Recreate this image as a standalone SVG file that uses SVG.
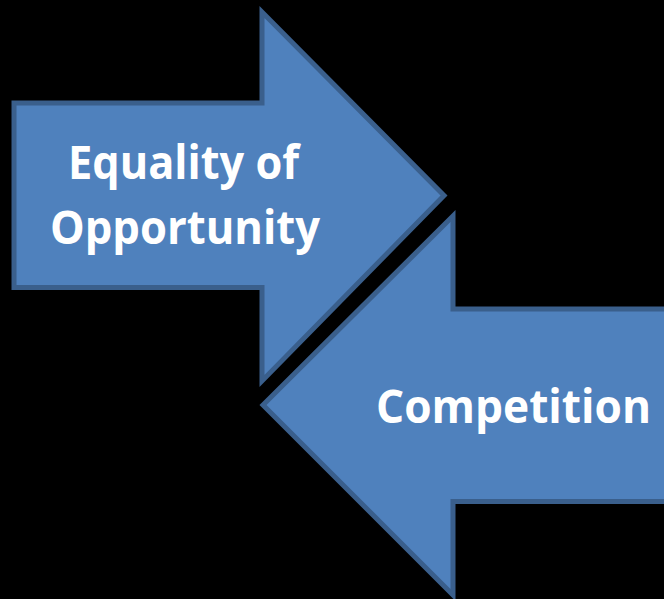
<svg xmlns="http://www.w3.org/2000/svg" width="664" height="599" viewBox="0 0 664 599">
<style>
.arrow{fill:#4F81BD;stroke:#3A5F8C;stroke-width:5;stroke-linejoin:miter}
.lbl{fill:#FFFFFF;font-family:"Open Sans","Liberation Sans",sans-serif;font-weight:bold;font-size:46px}
</style>
<rect x="0" y="0" width="664" height="599" fill="#000000"/>
<g id="connectors"></g>
<g id="equality">
<path class="arrow" d="M14,103 L262,103 L262,12 L444,195.5 L262,381 L262,287.5 L14,287.5 Z"/>
<text class="lbl" x="68" y="179" textLength="231" lengthAdjust="spacingAndGlyphs">Equality of</text>
<text class="lbl" x="50" y="244" textLength="270" lengthAdjust="spacingAndGlyphs">Opportunity</text>
</g>
<g id="competition">
<path class="arrow" d="M680,309 L453,309 L453,216 L263,405 L453,595 L453,501.5 L680,501.5 Z"/>
<text class="lbl" x="376" y="423" textLength="275" lengthAdjust="spacingAndGlyphs">Competition</text>
</g>
</svg>
